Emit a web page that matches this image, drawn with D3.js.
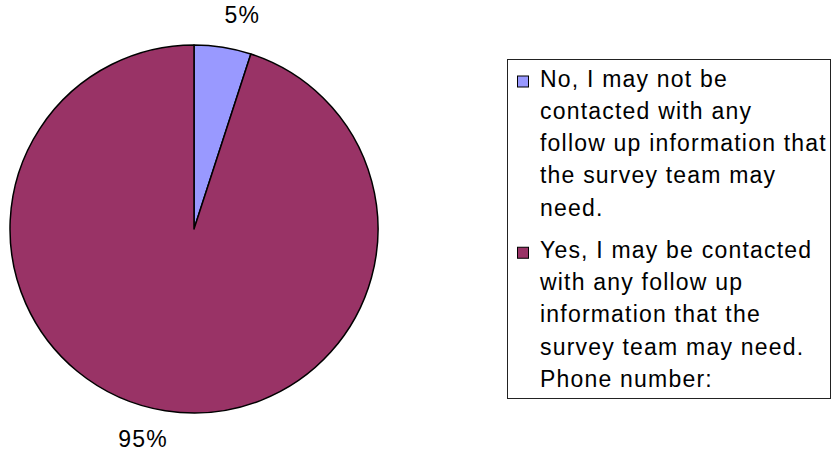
<!DOCTYPE html>
<html>
<head>
<meta charset="utf-8">
<script src="https://cdn.jsdelivr.net/npm/d3@7"></script>
<style>
  html, body { margin: 0; padding: 0; background: #fff; }
  svg { display: block; }
  text { font-family: "Liberation Sans", Arial, sans-serif; fill: #000; }
</style>
</head>
<body>
<svg id="chart" width="832" height="453"></svg>
<script>
// Survey answers: consent to follow-up contact
const categories = [
  "No, I may not be\ncontacted with any\nfollow up information that\nthe survey team may\nneed.",
  "Yes, I may be contacted\nwith any follow up\ninformation that the\nsurvey team may need.\nPhone number:"
];
const values = [5, 95];
const valueLabels = ["5%", "95%"];
const colors = ["#9999FF", "#993366"];

const svg = d3.select("#chart");

// Pie geometry
const cx = 194, cy = 229, R = 184;
const pie = d3.pie().sort(null).value(d => d).startAngle(0).endAngle(2 * Math.PI);
const arcs = pie(values);
const arc = d3.arc().innerRadius(0).outerRadius(R);

const g = svg.append("g").attr("transform", `translate(${cx},${cy})`);
g.selectAll("path.slice")
  .data(arcs)
  .join("path")
  .attr("class", "slice")
  .attr("d", arc)
  .attr("fill", (d, i) => colors[i])
  .attr("stroke", "#000")
  .attr("stroke-width", 1.5)
  .attr("stroke-linejoin", "round");

// Percentage labels outside the pie
const fontSize = 23, spacing = 1.2;
const labelArc = d3.arc().innerRadius(215).outerRadius(215);
const labelNudge = [[14.6, -1.6], [-17.4, -2.7]];
g.selectAll("text.pct")
  .data(arcs)
  .join("text")
  .attr("class", "pct")
  .attr("transform", (d, i) => {
    const c = labelArc.centroid(d);
    return `translate(${c[0] + labelNudge[i][0]},${c[1] + labelNudge[i][1]})`;
  })
  .attr("text-anchor", "middle")
  .attr("dy", "0.36em")
  .attr("font-size", fontSize)
  .attr("letter-spacing", spacing)
  .text((d, i) => valueLabels[i]);

// Legend
const lg = { x: 507, y: 59, w: 323, h: 339 };
svg.append("rect")
  .attr("x", lg.x + 0.5).attr("y", lg.y + 0.5)
  .attr("width", lg.w).attr("height", lg.h)
  .attr("fill", "#fff").attr("stroke", "#222").attr("stroke-width", 1);

const lineH = 32.25, firstBase = 86.5, itemGap = 10;
let base = firstBase;
categories.forEach((label, i) => {
  const lines = label.split("\n");
  svg.append("rect")
    .attr("x", 517.5).attr("y", base - 10.5)
    .attr("width", 11).attr("height", 11)
    .attr("fill", colors[i]).attr("stroke", "#000").attr("stroke-width", 1);
  const t = svg.append("text")
    .attr("x", 540).attr("y", base)
    .attr("font-size", fontSize)
    .attr("letter-spacing", spacing);
  lines.forEach((ln, j) => {
    t.append("tspan").attr("x", 540).attr("y", base + j * lineH).text(ln);
  });
  base += (lines.length - 1) * lineH + lineH + itemGap;
});
</script>
</body>
</html>
